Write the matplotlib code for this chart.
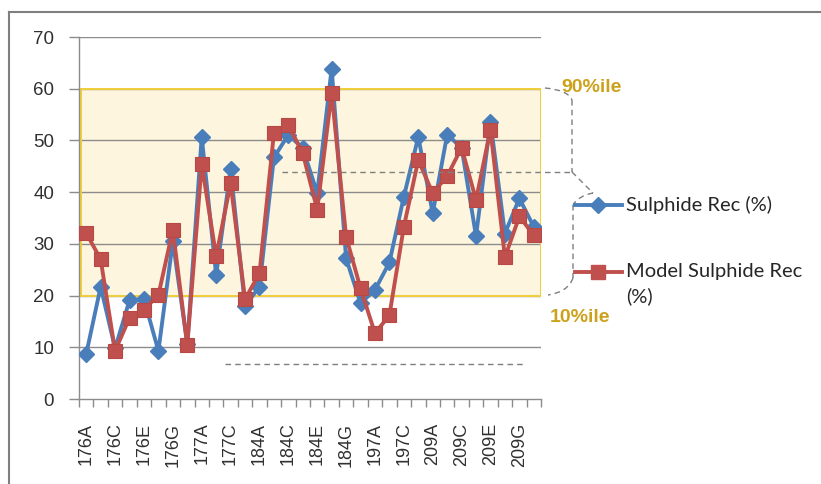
import numpy as np
import matplotlib
matplotlib.use("Agg")
import matplotlib.pyplot as plt
from matplotlib.lines import Line2D
from matplotlib.patches import Rectangle, PathPatch
from matplotlib.path import Path

# ---------------- Data ----------------
categories = ([f"176{c}" for c in "ABCDEFGH"] + [f"177{c}" for c in "ABCD"] +
              [f"184{c}" for c in "ABCDEFGH"] + [f"197{c}" for c in "ABCD"] +
              [f"209{c}" for c in "ABCDEFGH"])

sulphide_rec = [8.7, 21.7, 9.8, 19.1, 19.3, 9.3, 30.5, 10.6, 50.7, 24.0, 44.4, 18.0,
                21.7, 46.7, 51.1, 48.5, 39.8, 63.9, 27.2, 18.5, 21.1, 26.4, 39.1, 50.7,
                35.9, 51.1, 48.6, 31.5, 53.6, 32.0, 38.8, 33.3]
model_rec = [32.1, 27.0, 9.3, 15.7, 17.3, 20.1, 32.7, 10.4, 45.4, 27.6, 41.7, 19.3,
             24.3, 51.4, 53.0, 47.5, 36.6, 59.2, 31.4, 21.4, 12.7, 16.2, 33.3, 46.2,
             39.8, 43.1, 48.6, 38.5, 52.1, 27.4, 35.3, 31.7]

p10, p90 = 20, 60
y_ticks = [0, 10, 20, 30, 40, 50, 60, 70]

BLUE = "#4A7EBB"
RED = "#C0504D"
GOLD = "#CCA21C"
GRID = "#8C8C8C"
W, H = 821, 484


def px(x, y):
    # pixel position -> figure fraction
    return x / W, 1 - y / H


fig = plt.figure(figsize=(W / 100, H / 100), dpi=100)
ax = fig.add_axes([79 / W, 1 - 399 / H, (541 - 79) / W, (399 - 37) / H])

x = np.arange(len(categories))

# percentile band: fill under the grid, outline above it
band = ((-0.35, p10), len(categories) - 0.15, p90 - p10)
ax.add_patch(Rectangle(*band, facecolor="#FDF5DD", edgecolor="none", zorder=1))
ax.add_patch(Rectangle(*band, facecolor="none", edgecolor="#F2CE3A", lw=1.4, zorder=2))

for yv in y_ticks[1:]:
    ax.axhline(yv, color=GRID, lw=1.0, zorder=1.5)

ax.plot(x, sulphide_rec, color=BLUE, lw=2.8, marker="D", ms=8,
        mec=BLUE, zorder=3)
ax.plot(x, model_rec, color=RED, lw=2.8, marker="s", ms=10.5,
        mec="#B84844", mew=0.8, zorder=4)

ax.set_xlim(-0.5, len(categories) - 0.5)
ax.set_ylim(0, 70)
ax.set_yticks(y_ticks)
ax.set_xticks(x[::2])
ax.set_xticklabels(categories[::2], rotation=90, family="Liberation Sans",
                   fontsize=13, color="#303030")
ax.set_xticks(np.arange(-0.5, len(categories)), minor=True)
ax.tick_params(axis="x", which="major", length=0, pad=17)
ax.tick_params(axis="x", which="minor", length=6, color=GRID, width=1)
ax.tick_params(axis="y", length=7, color=GRID, width=1, pad=11,
               labelsize=13.5, labelcolor="#303030")
for lab in ax.get_yticklabels():
    lab.set_family("Liberation Sans")
for s in ["top", "right"]:
    ax.spines[s].set_visible(False)
for s in ["left", "bottom"]:
    ax.spines[s].set_color(GRID)
    ax.spines[s].set_linewidth(1.0)

# dashed annotation lines and brace
dash = dict(color="#7F7F7F", lw=1.0, ls=(0, (4, 3)))
fig.add_artist(Line2D(*zip(px(282, 172), px(572, 172)), **dash))
fig.add_artist(Line2D(*zip(px(225, 364), px(525, 364)), **dash))

verts = [px(545, 88), px(568, 90), px(572, 100), px(572, 100),
         px(572, 172), px(572, 172), px(580, 180), px(593, 193),
         px(593, 193), px(578, 196), px(573, 205), px(573, 205),
         px(573, 278), px(573, 278), px(568, 292), px(548, 295)]
codes = ([Path.MOVETO, Path.CURVE3, Path.CURVE3, Path.MOVETO, Path.LINETO,
          Path.MOVETO, Path.CURVE3, Path.CURVE3, Path.MOVETO, Path.CURVE3,
          Path.CURVE3, Path.MOVETO, Path.LINETO, Path.MOVETO, Path.CURVE3,
          Path.CURVE3])
fig.add_artist(PathPatch(Path(verts, codes), fill=False, edgecolor="#7F7F7F",
                         lw=1.0, ls=(0, (4, 3)), transform=fig.transFigure))

fig.text(*px(561, 87), "90%ile", color=GOLD, fontsize=14, fontweight="bold",
         va="center", ha="left", family="Liberation Sans")
fig.text(*px(550, 317), "10%ile", color=GOLD, fontsize=14, fontweight="bold",
         va="center", ha="left", family="Liberation Sans")

# legend, drawn by hand so the handle sits on the first text line
fig.add_artist(Line2D(*zip(px(575, 205), px(622, 205)), color=BLUE, lw=2.8))
fig.add_artist(Line2D([px(598, 205)[0]], [px(598, 205)[1]], color=BLUE,
                      marker="D", ms=8))
fig.add_artist(Line2D(*zip(px(575, 272), px(622, 272)), color=RED, lw=2.8))
fig.add_artist(Line2D([px(598, 272)[0]], [px(598, 272)[1]], color=RED,
                      marker="s", ms=10.5))
fig.text(*px(626, 205), "Sulphide Rec (%)", fontsize=14.5, color="#262626",
         va="center", family="Lato")
fig.text(*px(626, 272), "Model Sulphide Rec", fontsize=14.5, color="#262626",
         va="center", family="Lato")
fig.text(*px(626, 296), "(%)", fontsize=14.5, color="#262626",
         va="center", family="Lato")

# outer frame (top and left only)
fig.add_artist(Line2D(*zip(px(9, 12), px(W, 12)), color="#7F7F7F", lw=1.5))
fig.add_artist(Line2D(*zip(px(9, 12), px(9, H)), color="#7F7F7F", lw=1.5))

fig.savefig("out.png", dpi=100)
